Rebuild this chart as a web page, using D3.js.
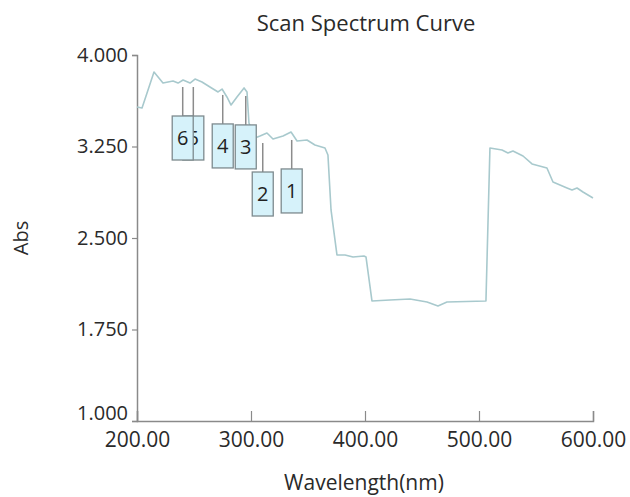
<!DOCTYPE html>
<html>
<head>
<meta charset="utf-8">
<script src="https://cdn.jsdelivr.net/npm/d3@7/dist/d3.min.js"></script>
<style>
  html, body { margin: 0; padding: 0; background: #fff; }
  svg { display: block; font-family: "Open Sans", "Noto Sans", sans-serif; }
</style>
</head>
<body>
<svg id="chart" width="630" height="497"></svg>
<script>
// ---- data ----
const wavelengths = [200.0, 204.4, 208.8, 214.9, 222.8, 227.2, 231.6, 236.0, 240.4, 246.5,
  250.9, 257.0, 264.0, 271.1, 274.6, 278.9, 282.5, 287.7, 293.9, 296.5,
  298.2, 303.5, 307.9, 314.0, 319.3, 328.1, 335.1, 340.4, 349.1, 356.1,
  364.9, 367.5, 370.2, 375.4, 382.5, 389.5, 399.1, 400.9, 406.1, 421.9,
  439.5, 454.4, 464.0, 471.9, 506.1, 509.6, 520.2, 525.4, 529.8, 538.6,
  546.5, 559.6, 564.9, 577.2, 581.6, 586.0, 591.2, 600.0];
const absorbance = [3.574, 3.566, 3.689, 3.861, 3.770, 3.779, 3.787, 3.770, 3.795, 3.770,
  3.803, 3.779, 3.738, 3.697, 3.721, 3.656, 3.590, 3.656, 3.730, 3.697,
  3.443, 3.320, 3.336, 3.361, 3.311, 3.336, 3.369, 3.295, 3.303, 3.262,
  3.238, 3.180, 2.730, 2.361, 2.361, 2.344, 2.352, 2.344, 1.984, 1.992,
  2.000, 1.975, 1.943, 1.975, 1.984, 3.238, 3.221, 3.197, 3.213, 3.172,
  3.107, 3.074, 2.959, 2.910, 2.893, 2.910, 2.877, 2.828];

const peakLabels = ["1", "2", "3", "4", "5", "6"];
const peakWavelengths = [335.7, 310.3, 295.4, 275.2, 249.4, 240.1];
const peakAbs = [3.361, 3.336, 3.722, 3.730, 3.795, 3.795];

const xTicks = [200, 300, 400, 500, 600];
const yTicks = [1.0, 1.75, 2.5, 3.25, 4.0];

const titleText = "Scan Spectrum Curve";
const xLabel = "Wavelength(nm)";
const yLabel = "Abs";

// ---- chart ----
const svg = d3.select("#chart");
const x = d3.scaleLinear().domain([200, 600]).range([137, 593]);
const y = d3.scaleLinear().domain([1, 4]).range([421, 55]);

const axisColor = "#8a8a8a";
const textColor = "#2a2a2a";

// title
svg.append("text")
  .attr("x", 366).attr("y", 31)
  .attr("text-anchor", "middle")
  .attr("font-size", 22)
  .attr("fill", textColor)
  .text(titleText);

// y axis
const yAxis = svg.append("g")
  .attr("transform", `translate(${x(200)},0)`)
  .call(d3.axisLeft(y).tickValues(yTicks).tickFormat(d3.format(".3f")).tickSize(5).tickPadding(4));
// x axis
const xAxis = svg.append("g")
  .attr("transform", `translate(0,${y(1)})`)
  .call(d3.axisBottom(x).tickValues(xTicks).tickFormat(d3.format(".2f")).tickSize(-10).tickPadding(11));

[yAxis, xAxis].forEach(g => {
  g.select(".domain").attr("stroke", axisColor).attr("stroke-width", 1.5);
  g.selectAll(".tick line").attr("stroke", axisColor).attr("stroke-width", 1.2);
  g.selectAll(".tick text").attr("fill", textColor)
    .attr("font-family", "'Open Sans', 'Noto Sans', sans-serif");
});
yAxis.selectAll(".tick text").attr("font-size", 20)
  .attr("dy", d => d === 1.0 ? "-0.1em" : "0.32em");
xAxis.selectAll(".tick text").attr("font-size", 21).attr("dy", "0.71em");

// axis labels
svg.append("text")
  .attr("transform", `translate(28,238) rotate(-90)`)
  .attr("text-anchor", "middle")
  .attr("font-size", 20)
  .attr("fill", textColor)
  .text(yLabel);

svg.append("text")
  .attr("x", 364).attr("y", 490)
  .attr("text-anchor", "middle")
  .attr("font-size", 21)
  .attr("fill", textColor)
  .text(xLabel);

// curve
const pts = wavelengths.map((w, i) => [w, absorbance[i]]);
svg.append("path")
  .datum(pts)
  .attr("fill", "none")
  .attr("stroke", "#a8c9cd")
  .attr("stroke-width", 1.6)
  .attr("stroke-linejoin", "round")
  .attr("d", d3.line().x(d => x(d[0])).y(d => y(d[1])));

// peak markers (drawn 1..6, later on top)
const boxW = 21, boxH = 44, lineOff = 7, lineLen = 29;
const markers = svg.append("g");
peakLabels.forEach((lab, i) => {
  const cx = x(peakWavelengths[i]);
  const top = y(peakAbs[i]) + lineOff;
  const g = markers.append("g");
  g.append("line")
    .attr("x1", cx).attr("x2", cx)
    .attr("y1", top).attr("y2", top + lineLen)
    .attr("stroke", "#8c8c8c").attr("stroke-width", 1.5);
  g.append("rect")
    .attr("x", cx - boxW / 2).attr("y", top + lineLen)
    .attr("width", boxW).attr("height", boxH)
    .attr("fill", "#d6f2fa")
    .attr("stroke", "#7d8a8e").attr("stroke-width", 1.3);
  g.append("text")
    .attr("x", cx).attr("y", top + lineLen + boxH / 2)
    .attr("dy", "0.36em")
    .attr("text-anchor", "middle")
    .attr("font-size", 20)
    .attr("fill", "#222")
    .text(lab);
});
</script>
</body>
</html>
